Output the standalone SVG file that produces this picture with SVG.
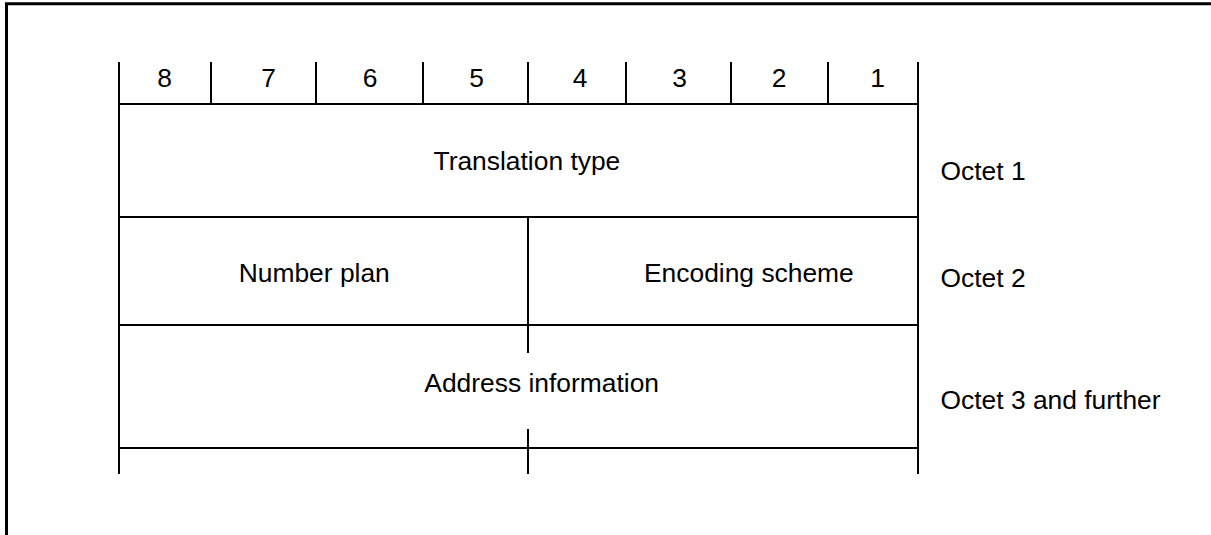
<svg xmlns="http://www.w3.org/2000/svg" width="1211" height="535" viewBox="0 0 1211 535">
<style>
.ln{stroke:#000;stroke-width:2;fill:none}
.fr{stroke:#000;stroke-width:3;fill:none}
text{font-family:"Liberation Sans",Arial,sans-serif;font-size:26.4px;fill:#000}
.d{text-anchor:middle}
</style>
<rect width="1211" height="535" fill="#fff"/>
<path class="fr" d="M6.5,535 V3.7 H1211"/>
<g id="connectors">
<path class="ln" d="M119,62 V474 M918,62 V474"/>
<path class="ln" d="M211,62 V104 M316,62 V104 M423,62 V104 M528,62 V104 M626,62 V104 M731,62 V104 M828,62 V104"/>
<path class="ln" d="M119,104 H918 M119,217 H918 M119,325 H918 M119,448 H918"/>
<path class="ln" d="M528,217 V353 M528,429 V474"/>
</g>
<g id="bits">
<text class="d" x="164.5" y="87">8</text>
<text class="d" x="268.5" y="87">7</text>
<text class="d" x="370" y="87">6</text>
<text class="d" x="476.7" y="87">5</text>
<text class="d" x="580" y="87">4</text>
<text class="d" x="679.7" y="87">3</text>
<text class="d" x="779" y="87">2</text>
<text class="d" x="877.5" y="87">1</text>
</g>
<g id="translation-type"><text x="433.5" y="170">Translation type</text></g>
<g id="number-plan"><text x="238.7" y="282.3">Number plan</text></g>
<g id="encoding-scheme"><text x="644" y="282.3">Encoding scheme</text></g>
<g id="address-information"><text x="424.3" y="392">Address information</text></g>
<g id="octet-1"><text x="940.5" y="179.5">Octet 1</text></g>
<g id="octet-2"><text x="940.5" y="286.7">Octet 2</text></g>
<g id="octet-3"><text x="940.5" y="409.3">Octet 3 and further</text></g>
</svg>
